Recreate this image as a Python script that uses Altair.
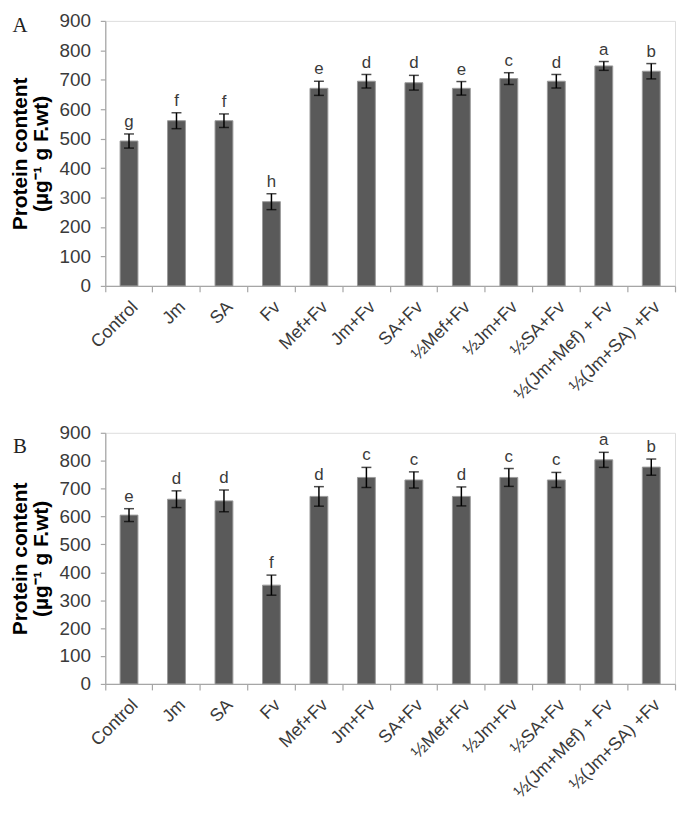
import altair as alt
import pandas as pd

categories = ["Control", "Jm", "SA", "Fv", "Mef+Fv", "Jm+Fv", "SA+Fv",
              "½Mef+Fv", "½Jm+Fv", "½SA+Fv", "½(Jm+Mef) + Fv", "½(Jm+SA) +Fv"]

mean_a = [492, 561, 561, 286, 671, 695, 690, 671, 704, 695, 747, 729]
err_a = [24, 27, 23, 27, 24, 23, 25, 23, 20, 23, 15, 26]
letters_a = ["g", "f", "f", "h", "e", "d", "d", "e", "c", "d", "a", "b"]

mean_b = [605, 662, 656, 354, 672, 740, 731, 672, 740, 731, 803, 777]
err_b = [23, 30, 39, 36, 35, 36, 29, 34, 32, 27, 27, 29]
letters_b = ["e", "d", "d", "f", "d", "c", "c", "d", "c", "c", "a", "b"]

y_ticks = [0, 100, 200, 300, 400, 500, 600, 700, 800, 900]

AX = "#a6a6a6"
BAR = "#5a5a5a"
TXT = "#3a3a3a"
FONT = "Liberation Sans"


def panel(means, errs, letters, tag, tag_y, h):
    df = pd.DataFrame({
        "cat": categories,
        "mean": means,
        "lo": [m - e for m, e in zip(means, errs)],
        "hi": [m + e for m, e in zip(means, errs)],
        "letter": letters,
    })
    xs = alt.Scale(domain=categories, paddingInner=0, paddingOuter=0)
    ys = alt.Scale(domain=[0, 900], nice=False)

    label_axis = alt.Axis(orient="bottom", title=None, labelAngle=-45, labelFontSize=18,
                          labelFont=FONT, labelColor=TXT, ticks=False, domainColor=AX,
                          domainWidth=1.2, labelPadding=12, labelOverlap=False, labelLimit=0)
    tick_axis = alt.Axis(orient="bottom", title=None, labels=False, domain=False, ticks=True,
                         tickSize=6, tickColor=AX, tickWidth=1.2, bandPosition=0)
    end_axis = alt.Axis(orient="bottom", title=None, labels=False, domain=False, ticks=True,
                        tickSize=6, tickColor=AX, tickWidth=1.2, bandPosition=1,
                        values=[categories[-1]])
    y_axis = alt.Axis(values=y_ticks, title=["Protein content", "(µg⁻¹ g F.wt)"],
                      titleFontSize=21, titleFont=FONT, titleFontWeight="bold",
                      titleColor="black", titlePadding=7, titleLineHeight=22,
                      labelFontSize=19, labelFont=FONT, labelColor=TXT, labelPadding=10,
                      tickSize=5, tickColor=AX, tickWidth=1.2, domainColor=AX,
                      domainWidth=1.2, grid=False)

    bars = alt.Chart(df).mark_bar(size=18, color=BAR, stroke="#9a9a9a", strokeWidth=1).encode(
        x=alt.X("cat:N", scale=xs, axis=label_axis),
        y=alt.Y("mean:Q", scale=ys, axis=y_axis),
    )
    rules = alt.Chart(df).mark_rule(color="black", strokeWidth=1.5).encode(
        x=alt.X("cat:N", scale=xs, axis=tick_axis),
        y=alt.Y("lo:Q", scale=ys, axis=y_axis),
        y2="hi:Q",
    )
    caps_hi = alt.Chart(df).mark_tick(color="black", size=10, thickness=1.5).encode(
        x=alt.X("cat:N", scale=xs, axis=end_axis),
        y=alt.Y("hi:Q", scale=ys, axis=y_axis),
    )
    caps_lo = alt.Chart(df).mark_tick(color="black", size=10, thickness=1.5).encode(
        x=alt.X("cat:N", scale=xs, axis=None),
        y=alt.Y("lo:Q", scale=ys, axis=y_axis),
    )
    letters_layer = alt.Chart(df).mark_text(baseline="bottom", dy=-3, fontSize=17,
                                            font=FONT, color=TXT).encode(
        x=alt.X("cat:N", scale=xs, axis=None),
        y=alt.Y("hi:Q", scale=ys, axis=y_axis),
        text="letter:N",
    )
    tag_layer = alt.Chart(pd.DataFrame({"tag": [tag]})).mark_text(
        font="Liberation Serif", fontSize=21, color="#222222", baseline="top", align="center"
    ).encode(x=alt.value(-86), y=alt.value(tag_y), text="tag:N")

    return alt.layer(bars, rules, caps_hi, caps_lo, letters_layer, tag_layer).resolve_axis(
        x="independent").properties(width=574, height=h)


chart_a = panel(mean_a, err_a, letters_a, "A", -6, 267)
chart_b = panel(mean_b, err_b, letters_b, "B", 3, 253)

chart = alt.vconcat(chart_a, chart_b, spacing=19).properties(padding=0).configure_view(
    stroke=None).configure(background="white")

chart.save("out.html", embed_options={"renderer": "svg", "actions": False})
